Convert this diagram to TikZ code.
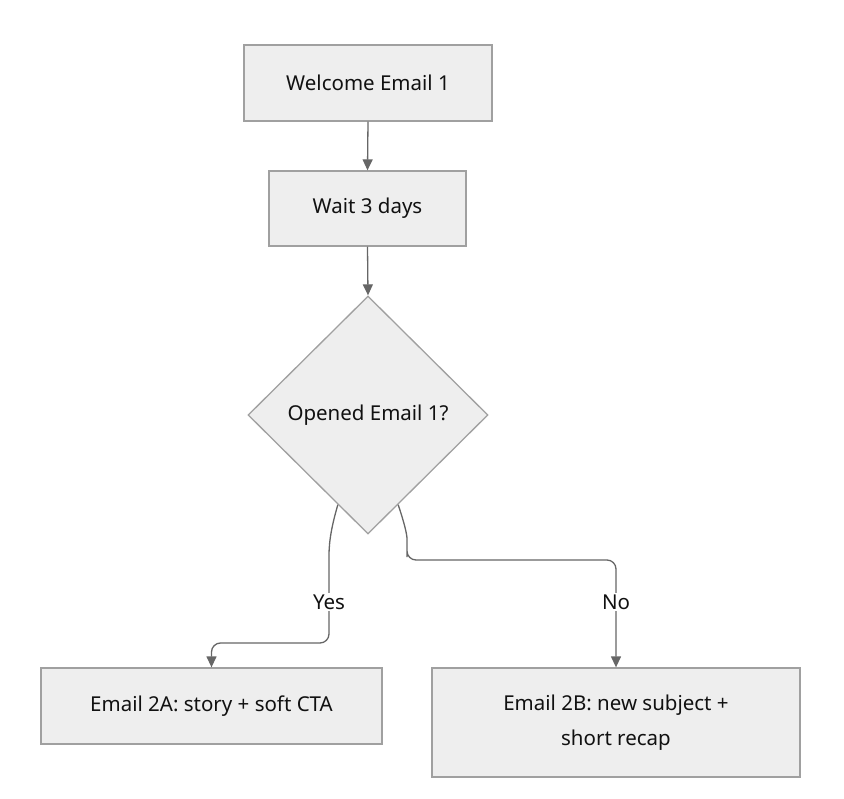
\documentclass[tikz,border=0pt]{standalone}
\usepackage{fontspec}
\setmainfont{Noto Sans}
\usetikzlibrary{shapes.geometric,arrows.meta,calc}
\definecolor{boxfill}{HTML}{EEEEEE}
\definecolor{boxline}{HTML}{A0A0A0}
\definecolor{edgecol}{HTML}{666666}
\definecolor{txt}{HTML}{111111}
\tikzset{
  stepbox/.style={draw=boxline, fill=boxfill, line width=1.3pt, text=txt, font=\fontsize{20.5}{35}\selectfont, align=center, inner sep=0pt},
  decide/.style={diamond, draw=boxline, fill=boxfill, line width=1.3pt, text=txt, font=\fontsize{20.5}{35}\selectfont, inner sep=0pt, minimum width=240pt, minimum height=238pt},
  link/.style={draw=edgecol, line width=1.3pt, -{Triangle[length=11pt,width=10pt]}},
  lbl/.style={fill=white, text=txt, font=\fontsize{20.5}{24}\selectfont, inner sep=2pt}
}
\begin{document}
\begin{tikzpicture}[x=1pt,y=-1pt]
\useasboundingbox (0,0) rectangle (844,799);
\node[stepbox, minimum width=248pt, minimum height=76pt] (e1) at (368,83) {Welcome Email 1};
\node[stepbox, minimum width=197pt, minimum height=75pt] (w3) at (367.5,208.5) {Wait 3 days};
\node[decide] (d) at (368,415) {Opened Email 1?};
\node[stepbox, minimum width=341pt, minimum height=76pt] (a) at (211.5,706) {Email 2A: story + soft CTA};
\node[stepbox, minimum width=368pt, minimum height=109pt] (b) at (616,722.5) {Email 2B: new subject +\\short recap};

\draw[link] (e1.south) -- (w3.north);
\draw[link] (w3.south) -- (d.north);

\coordinate (ys) at ($(d.west)!0.75!(d.south)$);
\coordinate (ns) at ($(d.east)!0.75!(d.south)$);
\coordinate (yk) at (329,565);
\coordinate (nk) at (407,548);

\draw[link, rounded corners=9pt] (ys) .. controls (332,525) and (329,540) .. (yk) -- (329,643) -- (a.north |- 0,643) -- (a.north);
\draw[link, rounded corners=9pt] (ns) .. controls (404,522) and (407,534) .. (nk) -- (407,560) -- (b.north |- 0,560) -- (b.north);

\node[lbl] (yl) at (329,602) {Yes};
\node[lbl] (nl) at (616,602) {No};
\end{tikzpicture}
\end{document}
